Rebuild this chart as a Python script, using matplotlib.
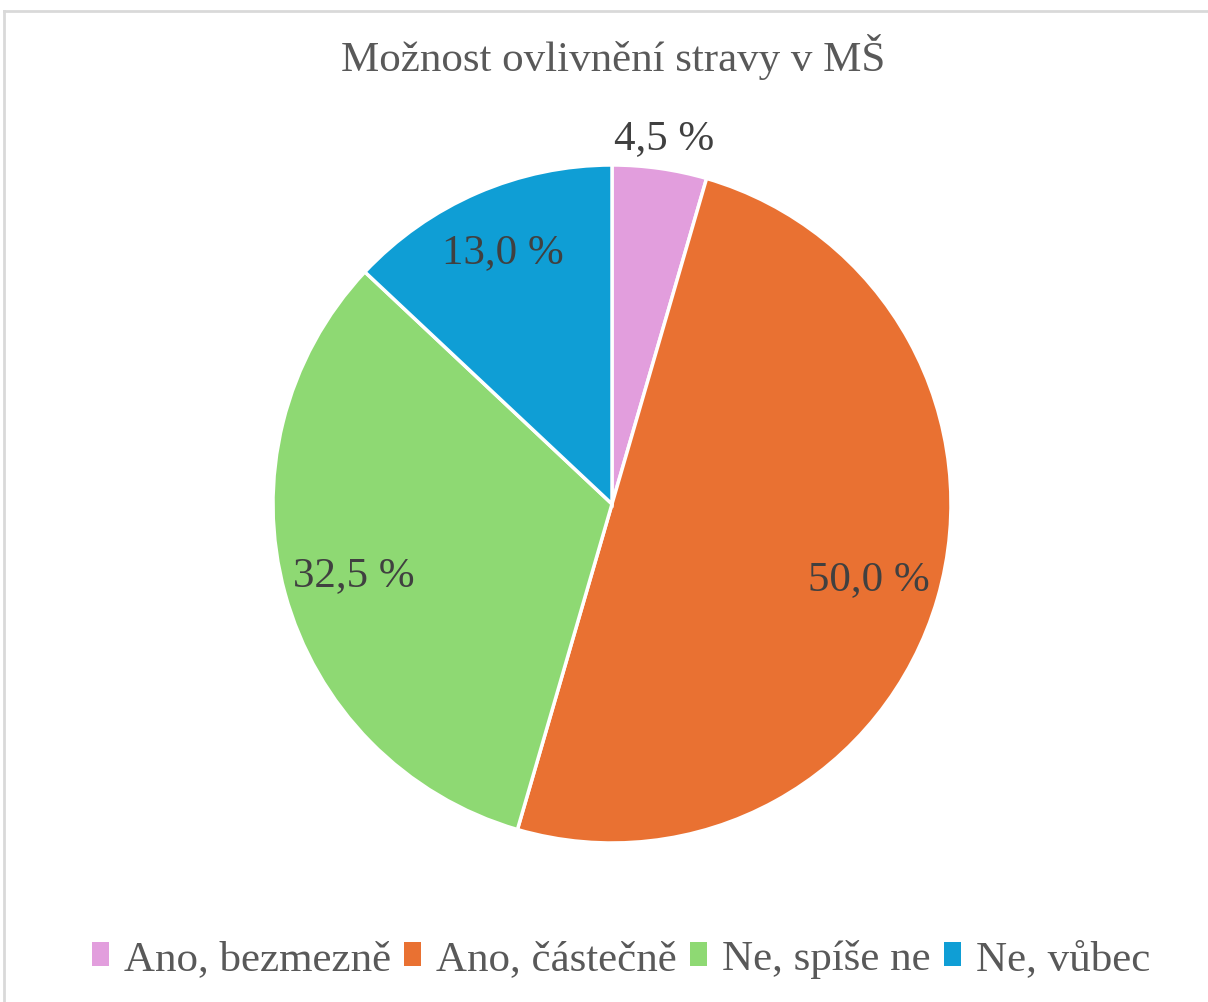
import numpy as np
import matplotlib
matplotlib.use("Agg")
import matplotlib.pyplot as plt
from matplotlib.lines import Line2D
from matplotlib.patches import Patch

plt.rcParams['font.family'] = ['Liberation Serif', 'DejaVu Serif']

title = "Možnost ovlivnění stravy v MŠ"
categories = ["Ano, bezmezně", "Ano, částečně", "Ne, spíše ne", "Ne, vůbec"]
values = [4.5, 50.0, 32.5, 13.0]
colors = ["#E29EDD", "#E97132", "#8ED973", "#0F9ED5"]
label_radius = [1.09, 0.79, 0.79, 0.81]

W, H = 1208, 1003
fig = plt.figure(figsize=(W / 100, H / 100), dpi=100)

# light frame like the office chart area (top and left edges visible)
fig.add_artist(Line2D([4 / W, 1.0], [1 - 12 / H, 1 - 12 / H], transform=fig.transFigure,
                      color="#D9D9D9", lw=2))
fig.add_artist(Line2D([4 / W, 4 / W], [1 - 12 / H, 0.0], transform=fig.transFigure,
                      color="#D9D9D9", lw=2))

cx, cy, r = 612, 505, 339
ax = fig.add_axes([(cx - r) / W, (H - cy - r) / H, 2 * r / W, 2 * r / H])
wedges, _ = ax.pie(values, colors=colors, startangle=90, counterclock=False, radius=1,
                   wedgeprops=dict(edgecolor="white", linewidth=2.5))
ax.set_xlim(-1, 1)
ax.set_ylim(-1, 1)
ax.axis("off")

for w, v, rr in zip(wedges, values, label_radius):
    ang = np.deg2rad((w.theta1 + w.theta2) / 2)
    txt = f"{v:.1f} %".replace(".", ",")
    ax.text(rr * np.cos(ang), rr * np.sin(ang), txt, ha="center", va="center",
            fontsize=31, color="#404040", clip_on=False)

fig.text(613 / W, 1 - 57 / H, title, ha="center", va="center", fontsize=31, color="#595959")

handles = [Patch(facecolor=c, edgecolor="none") for c in colors]
leg = fig.legend(handles, categories, loc="center", bbox_to_anchor=(621 / W, 1 - 960 / H),
                 ncol=4, frameon=False, fontsize=31, handlelength=0.4, handleheight=0.5,
                 handletextpad=0.35, columnspacing=0.3, labelcolor="#595959")

fig.savefig("out.png", dpi=100)
